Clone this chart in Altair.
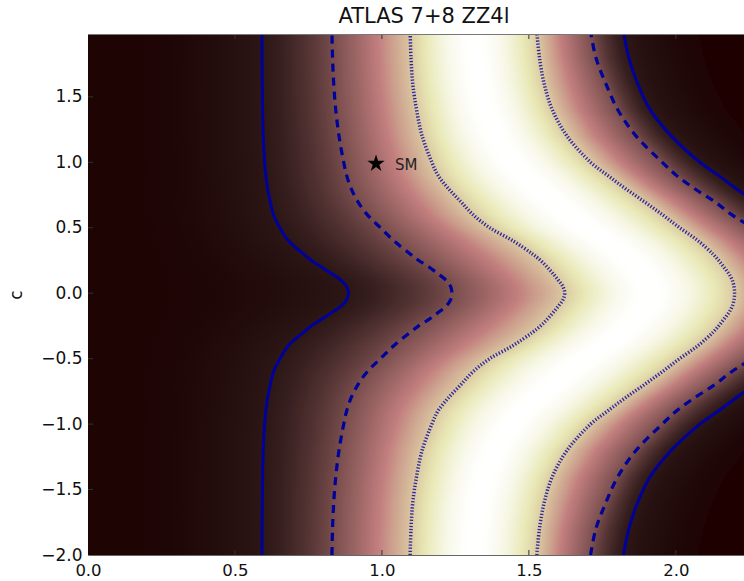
import math
import numpy as np
import pandas as pd
import altair as alt

# ---------------- data ----------------
TITLE = "ATLAS 7+8 ZZ4l"

# rows (values of c) at which the contour crossings were read
c_rows = [-2.0, -1.8, -1.6, -1.4, -1.2, -1.0, -0.9, -0.8, -0.7, -0.6, -0.5, -0.4,
          -0.3, -0.25, -0.2, -0.15, -0.1, -0.05, 0.0, 0.05, 0.1, 0.15, 0.2, 0.25, 0.3,
          0.4, 0.5, 0.6, 0.7, 0.8, 0.9, 1.0, 1.2, 1.4, 1.6, 1.8, 2.0]

# x position of each contour line on those rows
solid_left = [0.592, 0.592, 0.593, 0.594, 0.596, 0.601, 0.605, 0.611, 0.620, 0.631, 0.653, 0.682,
              0.733, 0.760, 0.794, 0.828, 0.860, 0.880, 0.886, 0.880, 0.860, 0.828, 0.794, 0.760,
              0.733, 0.682, 0.653, 0.631, 0.620, 0.611, 0.605, 0.601, 0.596, 0.594, 0.593, 0.592,
              0.592]
dashed_left = [0.830, 0.832, 0.836, 0.843, 0.854, 0.870, 0.880, 0.895, 0.918, 0.950, 0.995, 1.041,
               1.096, 1.125, 1.160, 1.190, 1.218, 1.234, 1.238, 1.234, 1.218, 1.190, 1.160, 1.125,
               1.096, 1.041, 0.995, 0.950, 0.918, 0.895, 0.880, 0.870, 0.854, 0.843, 0.836, 0.832,
               0.830]
dotted_left = [1.096, 1.099, 1.105, 1.118, 1.137, 1.170, 1.191, 1.226, 1.268, 1.310, 1.367, 1.446,
               1.512, 1.540, 1.562, 1.582, 1.600, 1.616, 1.622, 1.616, 1.600, 1.582, 1.562, 1.540,
               1.512, 1.446, 1.367, 1.310, 1.268, 1.226, 1.191, 1.170, 1.137, 1.118, 1.105, 1.099,
               1.096]
dotted_right = [1.527, 1.536, 1.552, 1.580, 1.630, 1.710, 1.768, 1.828, 1.892, 1.954, 2.013, 2.076,
                2.126, 2.146, 2.163, 2.180, 2.192, 2.198, 2.200, 2.198, 2.192, 2.180, 2.163, 2.146,
                2.126, 2.076, 2.013, 1.954, 1.892, 1.828, 1.768, 1.710, 1.630, 1.580, 1.552, 1.536,
                1.527]
dashed_right = [1.710, 1.728, 1.762, 1.803, 1.865, 1.954, 2.002, 2.063, 2.132, 2.190, 2.260, 2.320,
                2.370, 2.392, 2.410, 2.428, 2.440, 2.450, 2.455, 2.450, 2.440, 2.428, 2.410, 2.392,
                2.370, 2.320, 2.260, 2.190, 2.132, 2.063, 2.002, 1.954, 1.865, 1.803, 1.762, 1.728,
                1.710]
solid_right = [1.822, 1.840, 1.870, 1.913, 1.985, 2.082, 2.145, 2.205, 2.270, 2.335, 2.400, 2.460,
               2.520, 2.542, 2.560, 2.578, 2.590, 2.600, 2.605, 2.600, 2.590, 2.578, 2.560, 2.542,
               2.520, 2.460, 2.400, 2.335, 2.270, 2.205, 2.145, 2.082, 1.985, 1.913, 1.870, 1.840,
               1.822]

x_ticks = [0.0, 0.5, 1.0, 1.5, 2.0]
y_ticks = [-2.0, -1.5, -1.0, -0.5, 0.0, 0.5, 1.0, 1.5]

sm_x = [0.98]
sm_c = [0.99]
sm_label = ["SM"]

# ---------------- layout / style ----------------
X_DOMAIN = [0.0, 2.232]
Y_DOMAIN = [-2.0, 1.98]
W, H = 656, 521
FONT = "DejaVu Sans"
LINE_BLUE = "#00009a"


def pink_hex(v):
    """matplotlib 'pink' colormap."""
    v = min(max(v, 0.0), 1.0)
    hr = min(1.0, 0.0416 + 0.9584 * v / 0.365079)
    hg = min(1.0, max(0.0, (v - 0.365079) / 0.380953))
    hb = min(1.0, max(0.0, (v - 0.746032) / 0.253968))
    r = math.sqrt((2 * v + hr) / 3)
    g = math.sqrt((2 * v + hg) / 3)
    b = math.sqrt((2 * v + hb) / 3)
    return "#%02x%02x%02x" % (round(r * 255), round(g * 255), round(b * 255))


def sigma_color(s):
    return pink_hex(math.exp(-s * s / 2.0))


def gradient(sig_fn, n=12):
    stops = []
    for i in range(n + 1):
        t = i / n
        stops.append(alt.GradientStop(offset=t, color=sigma_color(sig_fn(t))))
    return alt.LinearGradient(gradient="linear", stops=stops, x1=0, x2=1, y1=0, y2=0)


def left_tail(t):
    if t < 0.32:
        return 4.0
    return 3.0 + (1 - t) / 0.68 * 0.9


grads = {
    "A": gradient(left_tail, 16),
    "B": gradient(lambda t: 3 - t),
    "C": gradient(lambda t: 2 - t),
    "D": gradient(lambda t: abs(1 - 2 * t), 24),
    "E": gradient(lambda t: 1 + t),
    "F": gradient(lambda t: 2 + t),
    "G": gradient(lambda t: 3 + 0.9 * t),
}

# shading bands between the read contour lines (row by row)
STEP = 0.0125
c_fine = np.round(np.arange(Y_DOMAIN[0], 2.0 + 1e-9, STEP), 5)
sl = np.interp(c_fine, c_rows, solid_left)
dl = np.interp(c_fine, c_rows, dashed_left)
tl = np.interp(c_fine, c_rows, dotted_left)
tr = np.interp(c_fine, c_rows, dotted_right)
dr = np.interp(c_fine, c_rows, dashed_right)
sr = np.interp(c_fine, c_rows, solid_right)
FADE = 0.25
OV = 0.003
records = []
for i, c in enumerate(c_fine):
    bounds = [("A", 0.0, sl[i]), ("B", sl[i], dl[i]), ("C", dl[i], tl[i]),
              ("D", tl[i], tr[i]), ("E", tr[i], dr[i]), ("F", dr[i], sr[i]),
              ("G", sr[i], sr[i] + FADE)]
    for name, a, b in bounds:
        records.append({"seg": name, "x0": float(a), "x1": float(b) + OV,
                        "c0": float(c - STEP / 2), "c1": float(c + STEP * 1.5)})
df_seg = pd.DataFrame(records)

line_sets = [("solid_left", solid_left, "solid"), ("solid_right", solid_right, "solid"),
             ("dashed_left", dashed_left, "dashed"), ("dashed_right", dashed_right, "dashed"),
             ("dotted_left", dotted_left, "dotted"), ("dotted_right", dotted_right, "dotted")]
line_records = []
for name, arr, style in line_sets:
    for c, x in zip(c_rows, arr):
        line_records.append({"line": name, "style": style, "x": x, "c": c})
df_lines = pd.DataFrame(line_records)

df_sm = pd.DataFrame({"x": sm_x, "c": sm_c, "label": sm_label})

xs = alt.Scale(domain=X_DOMAIN, nice=False, zero=False)
ys = alt.Scale(domain=Y_DOMAIN, nice=False, zero=False)
x_axis = alt.Axis(values=x_ticks, format=".1f", title=None, tickSize=0, grid=False,
                  labelFontSize=16.5, labelFont=FONT, labelColor="#111", labelPadding=7,
                  labelFlush=False, domain=True, domainColor="#666", domainWidth=1)
y_axis = alt.Axis(values=y_ticks, format=".1f", title="c", tickSize=0, grid=False,
                  labelFontSize=17, labelFont=FONT, labelColor="#111", labelPadding=6,
                  titleFontSize=17, titleFont=FONT, titleFontWeight="normal", titleColor="#111",
                  titleX=-63, domain=True, domainColor="#666", domainWidth=1)


def X(f):
    return alt.X(f, type="quantitative", scale=xs, axis=x_axis)


def Y(f):
    return alt.Y(f, type="quantitative", scale=ys, axis=y_axis)


layers = []
for name in ["A", "B", "C", "D", "E", "F", "G"]:
    layers.append(
        alt.Chart(df_seg).transform_filter(alt.datum.seg == name)
        .mark_rect(fill=grads[name], strokeWidth=0, clip=True)
        .encode(x=X("x0"), x2="x1", y=Y("c0"), y2="c1")
    )

line_styles = {
    "solid": dict(strokeWidth=3),
    "dashed": dict(strokeWidth=3.2, strokeDash=[8, 6]),
    "dotted": dict(strokeWidth=3.5, strokeDash=[1.3, 1.8], opacity=0.8),
}
for style, kw in line_styles.items():
    layers.append(
        alt.Chart(df_lines).transform_filter(alt.datum.style == style)
        .mark_line(color=LINE_BLUE, interpolate="catmull-rom", clip=True, strokeCap="butt", **kw)
        .encode(x=X("x"), y=Y("c"), detail="line:N", order="c:Q")
    )

# star marker
star_pts = []
for k in range(10):
    ang = math.radians(-90 + 36 * k)
    r = 1.0 if k % 2 == 0 else 0.382
    star_pts.append("%.4f,%.4f" % (r * math.cos(ang), r * math.sin(ang)))
STAR = "M" + "L".join(star_pts) + "Z"

layers.append(
    alt.Chart(df_sm).mark_point(shape=STAR, size=330, filled=True, color="#000", opacity=1)
    .encode(x=X("x"), y=Y("c"))
)
layers.append(
    alt.Chart(df_sm).mark_text(align="left", baseline="middle", dx=19, dy=1, fontSize=15,
                               font=FONT, color="#222")
    .encode(x=X("x"), y=Y("c"), text="label:N")
)

# inward tick marks (matplotlib classic style) and top frame line
df_xt = pd.DataFrame({"v": x_ticks[1:]})
df_yt = pd.DataFrame({"v": y_ticks[1:]})
layers.append(alt.Chart(df_xt).mark_rule(color="#333", strokeWidth=1)
              .encode(x=X("v"), y=alt.value(0), y2=alt.value(5)))
layers.append(alt.Chart(df_xt).mark_rule(color="#333", strokeWidth=1)
              .encode(x=X("v"), y=alt.value(H), y2=alt.value(H - 5)))
layers.append(alt.Chart(df_yt).mark_rule(color="#333", strokeWidth=1)
              .encode(y=Y("v"), x=alt.value(0), x2=alt.value(5)))
layers.append(alt.Chart(df_xt).mark_rule(color="#777", strokeWidth=1)
              .encode(x=alt.value(0), x2=alt.value(W), y=alt.value(0.5)))

chart = (
    alt.layer(*layers)
    .properties(
        width=W, height=H,
        title=alt.TitleParams(TITLE, fontSize=21, font=FONT, fontWeight="normal", color="#111",
                              anchor="middle", dx=8, offset=7),
        autosize=alt.AutoSizeParams(type="none"),
        padding={"left": 88, "top": 34, "right": 0, "bottom": 26},
        background="white",
    )
    .configure_view(strokeWidth=0, fill="#1e0000")
)

chart.save("out.html", embed_options={"renderer": "svg", "actions": False})
